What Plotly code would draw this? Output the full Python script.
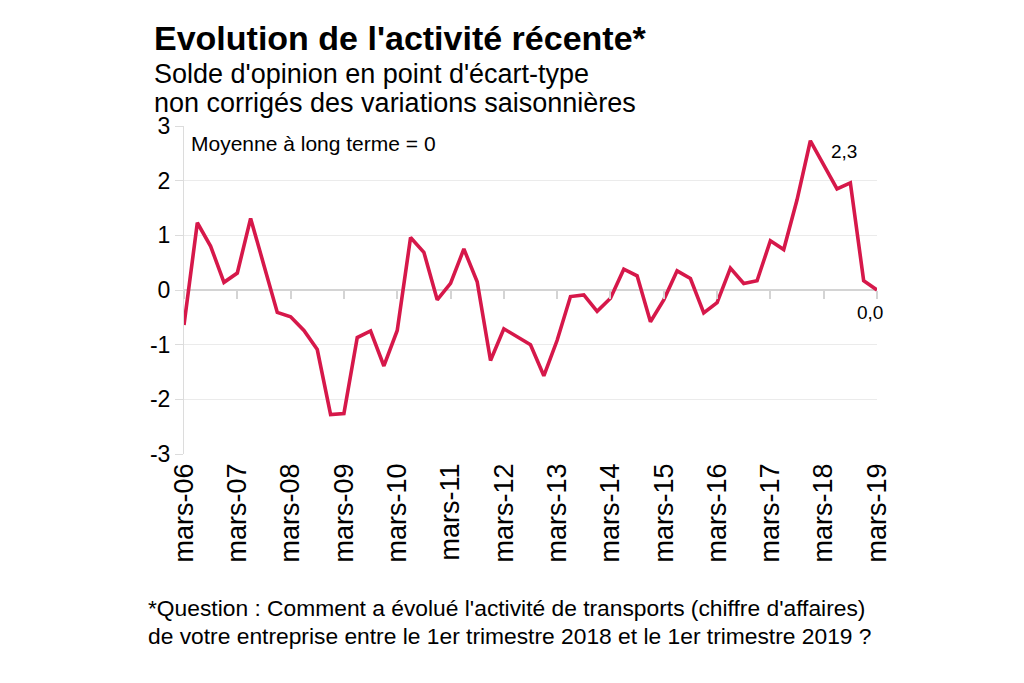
import plotly.graph_objects as go

# Quarterly series, mars-06 .. mars-19 (53 quarters)
values = [
    -0.64, 1.23, 0.80, 0.14, 0.31, 1.31, 0.45, -0.41, -0.49, -0.74,
    -1.09, -2.28, -2.26, -0.87, -0.75, -1.39, -0.74, 0.96, 0.69, -0.18,
    0.12, 0.75, 0.15, -1.29, -0.71, -0.85, -1.00, -1.57, -0.92, -0.12,
    -0.09, -0.39, -0.15, 0.38, 0.26, -0.58, -0.18, 0.35, 0.21, -0.42,
    -0.23, 0.40, 0.12, 0.17, 0.90, 0.74, 1.65, 2.73, 2.30, 1.85,
    1.96, 0.17, 0.00,
]
quarters = list(range(len(values)))
tick_positions = list(range(0, len(values), 4))
tick_labels = ["mars-%02d" % y for y in range(6, 20)]
y_ticks = [-3, -2, -1, 0, 1, 2, 3]

title = "Evolution de l'activité récente*"
subtitle1 = "Solde d'opinion en point d'écart-type"
subtitle2 = "non corrigés des variations saisonnières"
note = "Moyenne à long terme = 0"
foot1 = "*Question : Comment a évolué l'activité de transports (chiffre d'affaires)"
foot2 = "de votre entreprise entre le 1er trimestre 2018 et le 1er trimestre 2019 ?"

FONT = "Liberation Sans, Arial, sans-serif"
LINE = "#D6184A"

OFF = 8  # page body margin
W, H = 1024 - 2 * 4, 683 - 8
# plot area in screen pixels: x 184..877, y 126..454
L = 184 - OFF
T = 126 - OFF
R = W - (877 - OFF)
B = H - (454 - OFF)
pw, ph = W - L - R, H - T - B


def px(sx):
    return (sx - OFF - L) / pw


def py(sy):
    return (H - B - (sy - OFF)) / ph


fig = go.Figure()
fig.add_trace(go.Scatter(
    x=quarters, y=values, mode="lines",
    line=dict(color=LINE, width=3.6),
    hoverinfo="skip", showlegend=False,
))
# helper trace so the tick axis at zero is drawn
fig.add_trace(go.Scatter(
    x=[quarters[0], quarters[-1]], y=[0, 0], mode="lines",
    line=dict(width=0, color="rgba(0,0,0,0)"),
    xaxis="x2", hoverinfo="skip", showlegend=False,
))

fig.update_layout(
    width=W, height=H,
    margin=dict(l=L, r=R, t=T, b=B),
    paper_bgcolor="white", plot_bgcolor="white",
    font=dict(family=FONT, color="black"),
    xaxis=dict(
        range=[quarters[0], quarters[-1]],
        tickmode="array", tickvals=tick_positions, ticktext=tick_labels,
        tickangle=-90, tickfont=dict(size=27, family=FONT),
        showgrid=False, zeroline=False, showline=False, ticks="",
        ticklabelstandoff=3,
    ),
    xaxis2=dict(
        range=[quarters[0], quarters[-1]], overlaying="x",
        anchor="free", position=0.5, side="bottom",
        tickmode="array", tickvals=tick_positions,
        showticklabels=False, ticks="outside", ticklen=8, tickwidth=1.5,
        tickcolor="#d4d4d4", showgrid=False, zeroline=False, showline=False,
    ),
    yaxis=dict(
        range=[-3, 3], tickmode="array", tickvals=y_ticks,
        ticktext=[str(v) for v in y_ticks],
        tickfont=dict(size=23, family=FONT),
        showgrid=True, gridcolor="#ebebeb", gridwidth=1,
        zeroline=True, zerolinecolor="#d4d4d4", zerolinewidth=2,
        showline=True, linecolor="#dcdcdc", linewidth=1,
        ticks="outside", ticklen=8, tickcolor="#dcdcdc",
    ),
)

ann = []
ann.append(dict(text="<b>%s</b>" % title, x=px(152), y=py(38), xref="paper", yref="paper",
                xanchor="left", yanchor="middle", showarrow=False,
                font=dict(size=34, family=FONT)))
ann.append(dict(text=subtitle1, x=px(152), y=py(74), xref="paper", yref="paper",
                xanchor="left", yanchor="middle", showarrow=False,
                font=dict(size=27, family=FONT)))
ann.append(dict(text=subtitle2, x=px(152), y=py(103), xref="paper", yref="paper",
                xanchor="left", yanchor="middle", showarrow=False,
                font=dict(size=27, family=FONT)))
ann.append(dict(text=note, x=px(189), y=py(143), xref="paper", yref="paper",
                xanchor="left", yanchor="middle", showarrow=False,
                font=dict(size=21, family=FONT)))
ann.append(dict(text=foot1, x=px(146), y=py(608), xref="paper", yref="paper",
                xanchor="left", yanchor="middle", showarrow=False,
                font=dict(size=22.8, family=FONT)))
ann.append(dict(text=foot2, x=px(146), y=py(636), xref="paper", yref="paper",
                xanchor="left", yanchor="middle", showarrow=False,
                font=dict(size=22.8, family=FONT)))
# data labels
ann.append(dict(text="2,3", x=quarters[48], y=values[48], xref="x", yref="y",
                xshift=20, yshift=13, showarrow=False,
                font=dict(size=19, family=FONT)))
ann.append(dict(text="0,0", x=quarters[52], y=values[52], xref="x", yref="y",
                xshift=-7, yshift=-22, showarrow=False,
                font=dict(size=19, family=FONT)))
fig.update_layout(annotations=ann)

fig.write_html("out.html")
